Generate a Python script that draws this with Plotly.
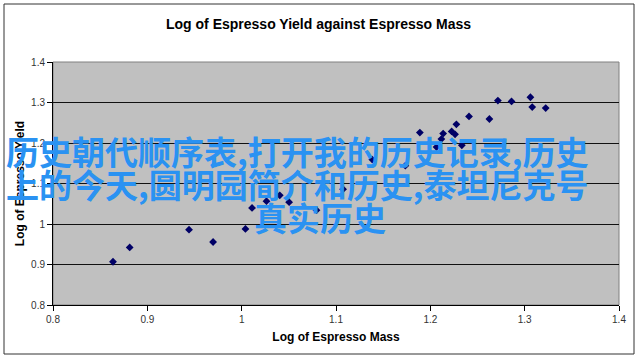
import plotly.graph_objects as go

# Data
log_mass = [0.8636, 0.8813, 0.9442, 0.9697, 1.004, 1.011, 1.0263, 1.0404, 1.0503, 1.0793,
            1.1075, 1.1385, 1.1735, 1.1889, 1.2066, 1.2117, 1.2136, 1.2226, 1.2262, 1.2276,
            1.2334, 1.2410, 1.2626, 1.2716, 1.2861, 1.3061, 1.3080, 1.3223]
log_yield = [0.9068, 0.9422, 0.9859, 0.9555, 0.9879, 1.0396, 1.0564, 1.0707, 1.0539, 1.0341,
             1.0861, 1.1590, 1.1441, 1.2257, 1.1899, 1.2096, 1.2232, 1.2286, 1.2214, 1.2462,
             1.1943, 1.2655, 1.2593, 1.3048, 1.3026, 1.3130, 1.2888, 1.2863]
x_ticks = [0.8, 0.9, 1.0, 1.1, 1.2, 1.3, 1.4]
x_tick_labels = ["0.8", "0.9", "1", "1.1", "1.2", "1.3", "1.4"]
y_ticks = [0.8, 0.9, 1.0, 1.1, 1.2, 1.3, 1.4]
y_tick_labels = ["0.8", "0.9", "1", "1.1", "1.2", "1.3", "1.4"]
title_text = "Log of Espresso Yield against Espresso Mass"
x_title = "Log of Espresso Mass"
y_title = "Log of Espresso Yield"
overlay_lines = ["历史朝代顺序表,打开我的历史记录,历史", "上的今天,圆明园简介和历史,泰坦尼克号", "真实历史"]

W, H = 640, 359
ML, MR, MT, MB = 53, 21, 62, 54
PW, PH = W - ML - MR, H - MT - MB


def px(xp):
    return (xp - ML) / PW


def py(yp):
    return (H - MB - yp) / PH


fig = go.Figure()
fig.add_trace(go.Scatter(
    x=log_mass, y=log_yield, mode="markers",
    marker=dict(symbol="diamond", size=6, color="#000066"),
    showlegend=False, hoverinfo="skip"))

axis_font = dict(family="Liberation Sans, Arial", size=10, color="#333333")
fig.update_layout(
    width=W, height=H,
    margin=dict(l=ML, r=MR, t=MT, b=MB),
    paper_bgcolor="white",
    plot_bgcolor="#C0C0C0",
    title=dict(text=title_text, x=318.5 / W, xanchor="center", y=1 - 24 / H, yanchor="middle",
               font=dict(family="Liberation Sans, Arial", size=14, color="black", weight="bold")),
    xaxis=dict(range=[0.8, 1.4], tickvals=x_ticks, ticktext=x_tick_labels,
               showgrid=False, zeroline=False, showline=True, linecolor="black", linewidth=1,
               ticks="outside", ticklen=5, tickcolor="black", tickfont=axis_font,
               title=dict(text=x_title, standoff=8,
                          font=dict(family="Liberation Sans, Arial", size=12, color="black", weight="bold"))),
    yaxis=dict(range=[0.8, 1.4], tickvals=y_ticks, ticktext=y_tick_labels,
               showgrid=True, gridcolor="#111111", gridwidth=1, zeroline=False,
               showline=True, linecolor="black", linewidth=1,
               ticks="outside", ticklen=5, tickcolor="black", tickfont=axis_font,
               title=dict(text=y_title, standoff=3,
                          font=dict(family="Liberation Sans, Arial", size=12, color="black", weight="bold"))),
)

# plot-area border (gray) and outer chart frame
fig.add_shape(type="rect", xref="paper", yref="paper", x0=0, y0=0, x1=1, y1=1,
              line=dict(color="#808080", width=1), layer="below")
fig.add_shape(type="rect", xref="paper", yref="paper",
              x0=px(4), x1=px(634), y0=py(354), y1=py(4),
              line=dict(color="#333333", width=1))

# overlaid watermark text
line_pos = [(297, 151), (297, 184), (320, 217)]
for txt, (cx, cy) in zip(overlay_lines, line_pos):
    fig.add_annotation(text=txt, xref="paper", yref="paper", x=px(cx), y=py(cy),
                       xanchor="center", yanchor="middle", showarrow=False,
                       font=dict(family="Noto Sans CJK SC", size=33, color="#2A92F2", weight="bold"))

fig.write_html("out.html")
